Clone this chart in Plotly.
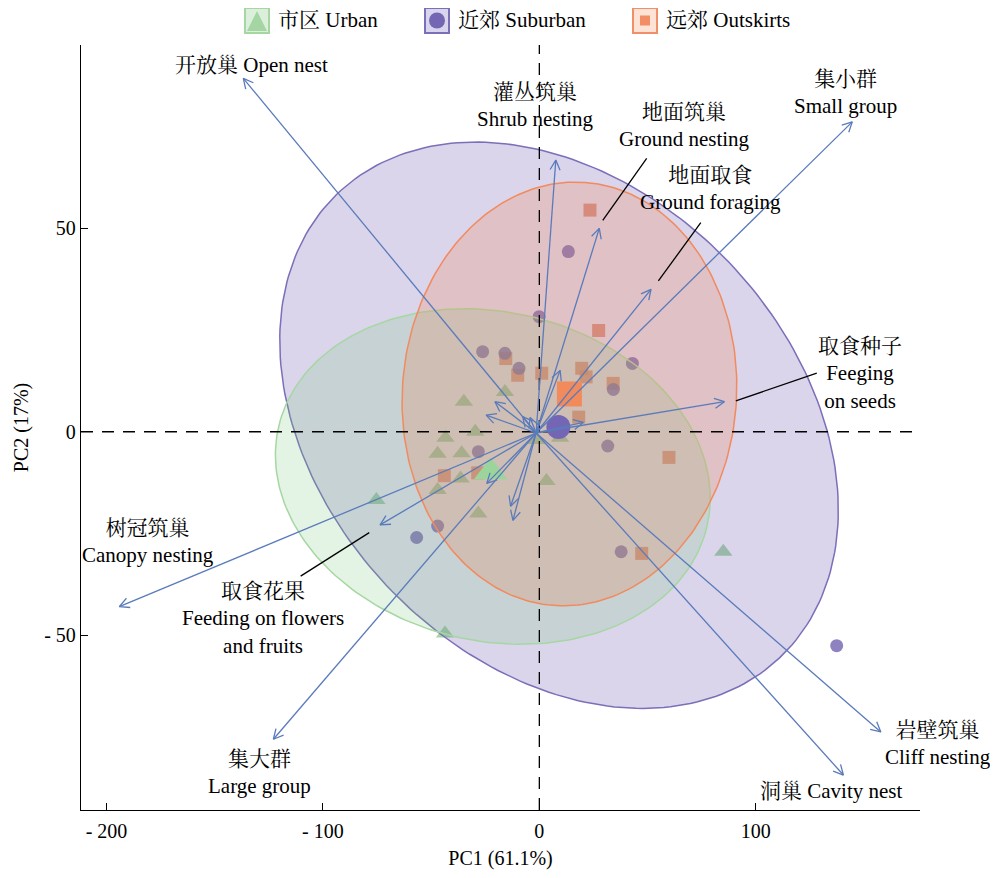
import numpy as np
import plotly.graph_objects as go

FONT = "Liberation Serif, Noto Serif CJK SC, Noto Sans CJK SC, serif"

# ---------------- layout constants ----------------
PAGE_OFFSET = 8          # default body margin of the html page
W, H = 982, 862
M_L, M_R, M_T, M_B = 73, 70, 37, 60

x_range = [-211.8, 175.9]
y_range = [-93.0, 95.1]
x_tickvals = [-200, -100, 0, 100]
x_ticktext = ["- 200", "- 100", "0", "100"]
y_tickvals = [-50, 0, 50]
y_ticktext = ["- 50", "0", "50"]

# ---------------- data ----------------
group_names = ["市区 Urban", "近郊 Suburban", "远郊 Outskirts"]

urban_x = [-34.9, -15.9, -29.6, -43.4, -47.0, -35.9, -36.4, -47.0, -28.2, 3.3, -75.3, -43.6, 85.0, -1.2, 9.6]
urban_y = [7.4, 9.8, 0.0, -1.5, -5.4, -5.3, -11.5, -14.3, -20.1, -12.1, -16.8, -49.6, -29.5, -2.0, -1.5]

suburban_x = [13.4, -0.1, -26.2, -15.9, -9.4, 43.0, 34.2, 31.6, -28.2, -47.0, -56.7, 37.8, 137.4]
suburban_y = [44.3, 28.3, 19.7, 19.3, 15.6, 16.8, 10.4, -3.5, -4.9, -23.2, -26.0, -29.5, -52.6]

outskirts_x = [23.4, 27.4, -15.5, -10.0, 1.1, 19.6, 21.6, 34.1, 18.2, 59.9, 47.3, -43.9, -28.5]
outskirts_y = [54.5, 24.9, 18.0, 13.9, 14.4, 15.6, 13.5, 11.9, 3.6, -6.3, -29.9, -10.8, -10.1]

# group centroids (urban, suburban, outskirts)
centroid_x = [-22.5, 8.8, 13.9]
centroid_y = [-9.9, 1.2, 9.3]

# confidence ellipses: centre and two conjugate semi-axis vectors (data units)
ell_cx = [-21.5, 9.1, 13.9]
ell_cy = [-11.0, 1.6, 9.3]
ell_v1x = [99.0, 101.9, 7.26]
ell_v1y = [-12.2, -57.2, 52.0]
ell_v2x = [17.1, 79.2, -77.0]
ell_v2y = [39.4, 39.7, 3.03]

# trait loadings (arrow tips), labelled ones
trait_names = ["开放巢 Open nest", "灌丛筑巢<br>Shrub nesting", "地面筑巢<br>Ground nesting",
               "地面取食<br>Ground foraging", "集小群<br>Small group", "取食种子<br>Feeging<br>on seeds",
               "岩壁筑巢<br>Cliff nesting", "洞巢 Cavity nest", "集大群<br>Large group",
               "树冠筑巢<br>Canopy nesting", "取食花果<br>Feeding on flowers<br>and fruits"]
trait_x = [-136.8, 7.6, 27.7, 51.6, 144.6, 85.5, 157.8, 140.5, -122.9, -194.1, -73.6]
trait_y = [86.9, 66.8, 50.0, 35.0, 76.2, 7.4, -73.8, -84.4, -75.6, -43.0, -22.9]
label_x = [-133.0, -1.7, 66.9, 79.1, 141.7, 148.2, 184.1, 134.8, -129.1, -181.0, -127.7]
label_y = [90.2, 80.2, 75.2, 59.8, 83.3, 14.4, -76.7, -88.3, -83.8, -26.9, -45.8]

# unlabelled short loadings
minor_x = [-20.5, -24.6, -7.7, -4.3, 9.6, 20.3, -13.3, -12.2, -24.3]
minor_y = [7.4, 4.1, 3.7, 3.5, 15.1, 2.3, -18.3, -21.8, -12.7]

arrow_origin = (-1.5, -0.3)

# leader lines from labels to arrows
leader_x0 = [49.6, 74.6, 128.2, -78.6]
leader_y0 = [67.2, 51.4, 14.4, -24.8]
leader_x1 = [29.3, 55.0, 90.8, -110.3]
leader_y1 = [52.0, 37.1, 7.6, -35.5]

# ---------------- styles ----------------
point_colors = ["#93cf94", "#7667b3", "#ef8a60"]
centroid_colors = ["#9bd59c", "#7566b5", "#f28b5c"]
ell_line = ["#a6d7a2", "#7b6fb9", "#f28a5e"]
ell_fill = ["rgba(120,200,120,0.20)", "rgba(117,100,180,0.27)", "rgba(240,130,80,0.24)"]
ARROW = "#5a7bbb"

PW = W - M_L - M_R
PH = H - M_T - M_B
sx = PW / (x_range[1] - x_range[0])
sy = PH / (y_range[1] - y_range[0])

def data_to_paper_x(v):
    return (v - x_range[0]) / (x_range[1] - x_range[0])

def data_to_paper_y(v):
    return (v - y_range[0]) / (y_range[1] - y_range[0])

fig = go.Figure()

# small points (drawn below ellipse fills)
for gx, gy, col, sym, size in [(outskirts_x, outskirts_y, point_colors[2], "square", 13),
                               (suburban_x, suburban_y, point_colors[1], "circle", 13),
                               (urban_x, urban_y, point_colors[0], "triangle-up", 16)]:
    fig.add_trace(go.Scatter(x=gx, y=gy, mode="markers",
                             marker=dict(symbol=sym, size=size, color=col, opacity=0.82, line=dict(width=0)),
                             hoverinfo="skip", showlegend=False))

# ellipses: suburban, urban, outskirts
t = np.linspace(0, 2 * np.pi, 240)
for i in [1, 0, 2]:
    ex = ell_cx[i] + ell_v1x[i] * np.cos(t) + ell_v2x[i] * np.sin(t)
    ey = ell_cy[i] + ell_v1y[i] * np.cos(t) + ell_v2y[i] * np.sin(t)
    fig.add_trace(go.Scatter(x=ex, y=ey, mode="lines", fill="toself",
                             fillcolor=ell_fill[i], line=dict(color=ell_line[i], width=1.5),
                             hoverinfo="skip", showlegend=False))

# dashed zero lines
fig.add_trace(go.Scatter(x=x_range, y=[0, 0], mode="lines",
                         line=dict(color="black", width=1.3, dash="12px,9px"),
                         hoverinfo="skip", showlegend=False))
fig.add_trace(go.Scatter(x=[0, 0], y=y_range, mode="lines",
                         line=dict(color="black", width=1.3, dash="12px,9px"),
                         hoverinfo="skip", showlegend=False))

# centroids
for i, (sym, size) in enumerate([("triangle-up", 29), ("circle", 24), ("square", 25)]):
    fig.add_trace(go.Scatter(x=[centroid_x[i]], y=[centroid_y[i]], mode="markers",
                             marker=dict(symbol=sym, size=size, color=centroid_colors[i], line=dict(width=0)),
                             hoverinfo="skip", showlegend=False))

# arrows with open V heads
def arrow_coords(x0, y0, x1, y1, head=11.0, half_angle=27):
    dxp = (x1 - x0) * sx
    dyp = (y1 - y0) * sy
    ang = np.arctan2(dyp, dxp)
    xs = [x0, x1, None]
    ys = [y0, y1, None]
    bx, by = [], []
    for sgn in (1, -1):
        a = ang + np.pi + sgn * np.radians(half_angle)
        bx.append(x1 + head * np.cos(a) / sx)
        by.append(y1 + head * np.sin(a) / sy)
    xs += [bx[0], x1, bx[1], None]
    ys += [by[0], y1, by[1], None]
    return xs, ys

ax_all, ay_all = [], []
for tx, ty in zip(trait_x + minor_x, trait_y + minor_y):
    xs, ys = arrow_coords(arrow_origin[0], arrow_origin[1], tx, ty)
    ax_all += xs
    ay_all += ys
fig.add_trace(go.Scatter(x=ax_all, y=ay_all, mode="lines",
                         line=dict(color=ARROW, width=1.3),
                         hoverinfo="skip", showlegend=False))

# leader lines
lx, ly = [], []
for a, b, c, d in zip(leader_x0, leader_y0, leader_x1, leader_y1):
    lx += [a, c, None]
    ly += [b, d, None]
fig.add_trace(go.Scatter(x=lx, y=ly, mode="lines", line=dict(color="black", width=1.3),
                         hoverinfo="skip", showlegend=False))

annotations = []
for name, x, y in zip(trait_names, label_x, label_y):
    annotations.append(dict(x=data_to_paper_x(x), y=data_to_paper_y(y), xref="paper", yref="paper",
                            text=name, showarrow=False,
                            xanchor="center", yanchor="middle", align="center",
                            font=dict(family=FONT, size=21, color="black")))

# ---------------- custom legend (boxed symbols), positions in page pixels ----------------
def px_x(p):
    return (p - PAGE_OFFSET - M_L) / PW

def px_y(p):
    return (H - M_B - (p - PAGE_OFFSET)) / PH

legend_box_left = [245, 425, 633]
legend_text_left = [276, 456, 664]
legend_box_fill = ["#dcefdc", "#d9d5ec", "#fde3d6"]
legend_box_line = ["#a6d7a2", "#7b6fb9", "#f28f69"]
box_w, box_top, box_bot = 24, 8, 33
shapes = []
for i in range(3):
    x0 = legend_box_left[i]
    x1 = x0 + box_w
    shapes.append(dict(type="rect", xref="paper", yref="paper",
                       x0=px_x(x0), x1=px_x(x1), y0=px_y(box_bot), y1=px_y(box_top),
                       fillcolor=legend_box_fill[i], line=dict(color=legend_box_line[i], width=2)))
    xc = (x0 + x1) / 2
    yc = (box_top + box_bot) / 2
    if i == 0:
        path = "M {} {} L {} {} L {} {} Z".format(px_x(x0 + 2), px_y(box_bot - 2), px_x(x1 - 2),
                                                  px_y(box_bot - 2), px_x(xc), px_y(box_top + 3))
        shapes.append(dict(type="path", xref="paper", yref="paper", path=path,
                           fillcolor="#a3d6a3", line=dict(width=0)))
    elif i == 1:
        r = 8
        shapes.append(dict(type="circle", xref="paper", yref="paper",
                           x0=px_x(xc - r), x1=px_x(xc + r), y0=px_y(yc + r), y1=px_y(yc - r),
                           fillcolor="#7466b3", line=dict(width=0)))
    else:
        r = 5
        shapes.append(dict(type="rect", xref="paper", yref="paper",
                           x0=px_x(xc - r), x1=px_x(xc + r), y0=px_y(yc + r), y1=px_y(yc - r),
                           fillcolor="#f28d66", line=dict(width=0)))
    annotations.append(dict(x=px_x(legend_text_left[i]), y=px_y(yc), xref="paper", yref="paper",
                            text=group_names[i], showarrow=False, xanchor="left", yanchor="middle",
                            font=dict(family=FONT, size=21, color="black")))

axis_common = dict(showgrid=False, zeroline=False, showline=True, linecolor="black", linewidth=1.3,
                   ticks="inside", ticklen=7, tickwidth=1.2, tickcolor="black", automargin=False,
                   tickfont=dict(family=FONT, size=20, color="black"), mirror=False)

fig.update_layout(
    width=W, height=H,
    margin=dict(l=M_L, r=M_R, t=M_T, b=M_B, autoexpand=False),
    paper_bgcolor="white", plot_bgcolor="white",
    showlegend=False,
    xaxis=dict(range=x_range, tickvals=x_tickvals, ticktext=x_ticktext, ticklabelstandoff=3,
               title=dict(text="PC1 (61.1%)", font=dict(family=FONT, size=20, color="black"), standoff=12),
               **axis_common),
    yaxis=dict(range=y_range, tickvals=y_tickvals, ticktext=y_ticktext,
               title=dict(text="PC2 (17%)", font=dict(family=FONT, size=20, color="black"), standoff=10),
               **axis_common),
    annotations=annotations,
    shapes=shapes,
)

fig.write_html("out.html")
